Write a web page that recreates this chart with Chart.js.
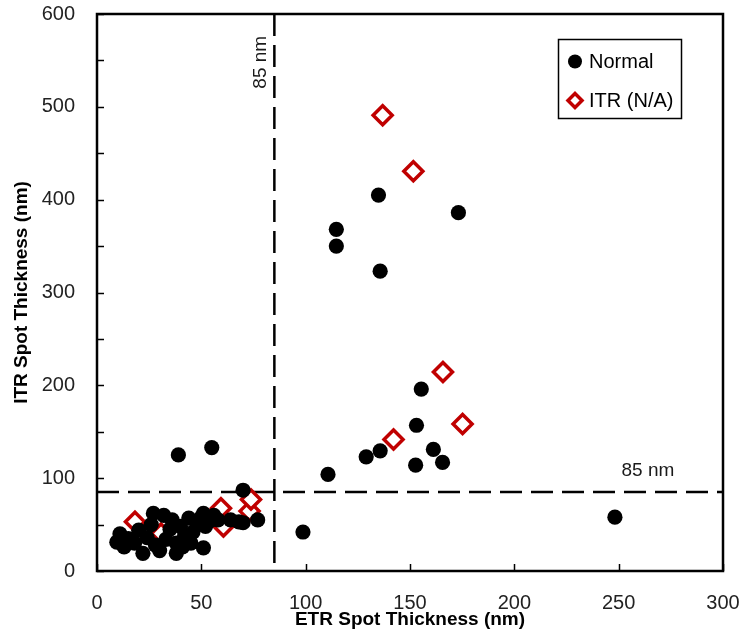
<!DOCTYPE html>
<html><head><meta charset="utf-8">
<script src="https://cdn.jsdelivr.net/npm/chart.js@4"></script>
<style>html,body{margin:0;padding:0;background:#fff}#wrap{width:748px;height:640px}</style>
</head><body><div id="wrap"><canvas id="c" width="748" height="640"></canvas></div>
<script>
// ---- data ----
const normalX = [9.5,11,13,15,18,20,22,24,26,27,28,30,32,33,35,36,38,38,40,41,42,44,45,46,48,50,51,51,52,54,56,58,64,68,70,70,77,39,55,
  98.7,110.7,129,135.7,152.7,153.1,155.4,161.2,165.6,114.7,114.7,134.9,135.7,173.2,248.2];
const normalY = [31,40,26,35,30,44,19,36,50,62,28,22,60,34,45,55,19,30,48,26,38,57,30,42,52,58,62,25,48,54,60,55,55,53,52,87,55,125,133,
  42,104,123,129.5,114,157,196,131,117,368,350,405,323,386,58];
const itrX = [18.2,30.7,59.4,60.6,73.1,73.8,136.9,151.6,142.1,165.8,175.2];
const itrY = [53,40.5,67.7,48,64.5,77,491,430.6,141.7,214.4,158.3];
const seriesNames = ['Normal','ITR (N/A)'];
const xTickValues = [0,50,100,150,200,250,300];
const yTickValues = [0,100,200,300,400,500,600];
const cutoff = 85;
const cutoffLabel = '85 nm';
const xTitle = 'ETR Spot Thickness (nm)';
const yTitle = 'ITR Spot Thickness (nm)';

const FONT = "'Liberation Sans', Arial, sans-serif";
const RED = '#C00000';

const toPts = (xs, ys) => xs.map((x, i) => ({x, y: ys[i]}));

const decor = {
  id: 'decor',
  beforeDatasetsDraw(chart) {
    const {ctx, chartArea: a, scales: {x, y}} = chart;
    ctx.save();
    ctx.strokeStyle = '#000';
    ctx.lineWidth = 2.5;
    ctx.setLineDash([22, 9]);
    const px = x.getPixelForValue(cutoff);
    const py = y.getPixelForValue(cutoff);
    ctx.beginPath(); ctx.moveTo(px, a.top); ctx.lineTo(px, a.bottom); ctx.stroke();
    ctx.beginPath(); ctx.moveTo(a.left, py); ctx.lineTo(a.right, py); ctx.stroke();
    ctx.setLineDash([]);
    ctx.fillStyle = '#1a1a1a';
    ctx.font = '19px ' + FONT;
    ctx.textAlign = 'center';
    ctx.textBaseline = 'middle';
    ctx.save();
    ctx.translate(px - 14, y.getPixelForValue(548));
    ctx.rotate(-Math.PI / 2);
    ctx.fillText(cutoffLabel, 0, 0);
    ctx.restore();
    ctx.fillText(cutoffLabel, x.getPixelForValue(264), py - 21);
    ctx.restore();
  },
  afterDatasetsDraw(chart) {
    const {ctx, chartArea: a, scales: {x, y}} = chart;
    ctx.save();
    ctx.strokeStyle = '#000';
    ctx.lineWidth = 2.5;
    ctx.strokeRect(a.left, a.top, a.right - a.left, a.bottom - a.top);
    ctx.lineWidth = 1.5;
    ctx.beginPath();
    y.ticks.forEach(t => {
      const p = Math.round(y.getPixelForValue(t.value)) + 0.5;
      ctx.moveTo(a.left, p); ctx.lineTo(a.left + 7, p);
    });
    x.ticks.forEach(t => {
      const p = Math.round(x.getPixelForValue(t.value)) + 0.5;
      ctx.moveTo(p, a.bottom); ctx.lineTo(p, a.bottom - 7);
    });
    ctx.stroke();
    // legend
    const lx = 558.5, ly = 39.5, lw = 123, lh = 79;
    ctx.fillStyle = '#fff';
    ctx.fillRect(lx, ly, lw, lh);
    ctx.strokeStyle = '#000';
    ctx.lineWidth = 1.5;
    ctx.strokeRect(lx, ly, lw, lh);
    const ds = chart.data.datasets;
    const rows = [61.5, 100.5];
    ctx.fillStyle = '#000';
    ctx.beginPath(); ctx.arc(575, rows[0], 7, 0, Math.PI * 2); ctx.fill();
    ctx.fillStyle = '#fff'; ctx.strokeStyle = RED; ctx.lineWidth = 3.5;
    ctx.beginPath();
    ctx.moveTo(575, rows[1] - 7); ctx.lineTo(582, rows[1]); ctx.lineTo(575, rows[1] + 7); ctx.lineTo(568, rows[1]); ctx.closePath();
    ctx.fill(); ctx.stroke();
    ctx.fillStyle = '#000';
    ctx.font = '20px ' + FONT;
    ctx.textAlign = 'left';
    ctx.textBaseline = 'middle';
    ds.forEach((d, i) => ctx.fillText(d.label, 589, rows[i] + 1));
    ctx.restore();
  }
};

new Chart(document.getElementById('c'), {
  type: 'scatter',
  data: {
    datasets: [
      {label: seriesNames[0], data: toPts(normalX, normalY), pointStyle: 'circle', pointRadius: 7.6,
       backgroundColor: '#000', borderColor: '#000', borderWidth: 0},
      {label: seriesNames[1], data: toPts(itrX, itrY), pointStyle: 'rectRot', pointRadius: 9.5,
       backgroundColor: '#fff', borderColor: RED, borderWidth: 3.5}
    ]
  },
  options: {
    responsive: false,
    animation: false,
    layout: {padding: {left: 10, top: 14, right: 25, bottom: 9}},
    plugins: {legend: {display: false}, tooltip: {enabled: false}},
    scales: {
      x: {
        type: 'linear', min: 0, max: 300,
        afterBuildTicks: s => { s.ticks = xTickValues.map(v => ({value: v})); },
        afterFit: s => { s.height = 60; s.paddingLeft = 0; s.paddingRight = 0; },
        grid: {display: false, drawTicks: false},
        border: {display: false},
        ticks: {padding: 20, color: '#222', font: {family: FONT, size: 20}, maxRotation: 0},
        title: {display: true, text: xTitle, color: '#000', padding: 0, font: {family: FONT, size: 19, weight: 'bold'}}
      },
      y: {
        type: 'linear', min: 0, max: 600,
        ticks: {stepSize: 50, padding: 22, color: '#222', font: {family: FONT, size: 20},
          callback: v => yTickValues.includes(v) ? String(v) : ''},
        afterFit: s => { s.width = 87; s.paddingTop = 0; s.paddingBottom = 0; },
        grid: {display: false, drawTicks: false},
        border: {display: false},
        title: {display: true, text: yTitle, color: '#000', padding: 0, font: {family: FONT, size: 19, weight: 'bold'}}
      }
    }
  },
  plugins: [decor]
});
</script>
</body></html>
